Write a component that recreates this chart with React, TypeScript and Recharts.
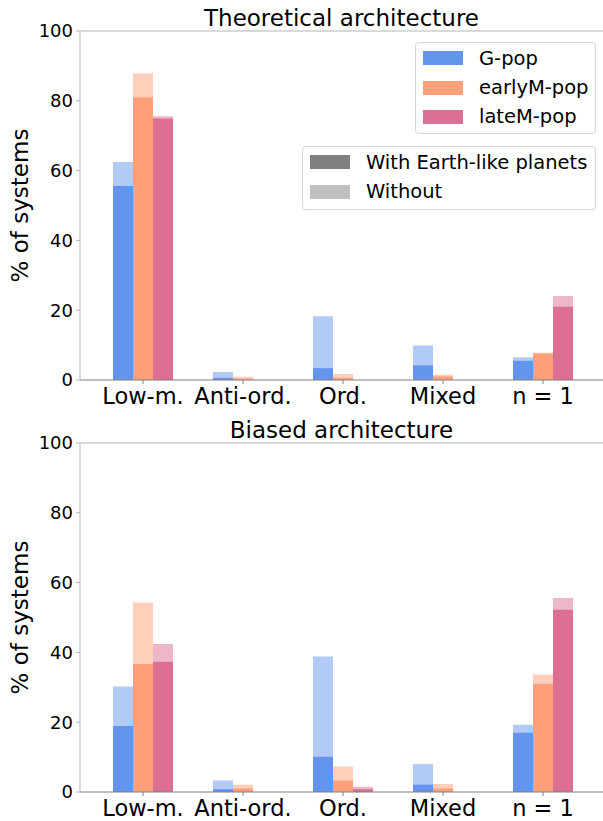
import React from "react";
import {
  BarChart,
  Bar,
  XAxis,
  YAxis,
  ReferenceLine,
} from "recharts";

const categories = ["Low-m.", "Anti-ord.", "Ord.", "Mixed", "n = 1"];

// Theoretical architecture (%)
const theoGWith = [55.6, 0.6, 3.4, 4.2, 5.5];
const theoGWithout = [62.5, 2.3, 18.3, 9.9, 6.5];
const theoEarlyWith = [81.0, 0.4, 0.6, 1.0, 7.6];
const theoEarlyWithout = [87.9, 0.95, 1.7, 1.5, 7.8];
const theoLateWith = [74.9, 0, 0, 0, 21.0];
const theoLateWithout = [75.6, 0, 0, 0, 24.1];

// Biased architecture (%)
const biasGWith = [18.9, 0.8, 10.1, 2.1, 17.0];
const biasGWithout = [30.2, 3.3, 38.8, 8.0, 19.3];
const biasEarlyWith = [36.7, 1.0, 3.3, 1.0, 31.0];
const biasEarlyWithout = [54.3, 2.1, 7.3, 2.3, 33.7];
const biasLateWith = [37.3, 0, 0.8, 0, 52.2];
const biasLateWithout = [42.4, 0, 1.5, 0, 55.6];

const yTicks = [0, 20, 40, 60, 80, 100];

const POPS = [
  { key: "g", name: "G-pop", color: "#6495ed" },
  { key: "early", name: "earlyM-pop", color: "#ffa07a" },
  { key: "late", name: "lateM-pop", color: "#db7093" },
];

const FONT = "'DejaVu Sans', sans-serif";
const LIGHT_SPINE = "#b3b3b3";
const DARK_SPINE = "#7f7f7f";

function buildRows(
  gW: number[], gWo: number[],
  eW: number[], eWo: number[],
  lW: number[], lWo: number[]
) {
  return categories.map((cat, i) => ({
    cat,
    g: gW[i], gWo: gWo[i],
    early: eW[i], earlyWo: eWo[i],
    late: lW[i], lateWo: lWo[i],
  }));
}

const theoData = buildRows(
  theoGWith, theoGWithout, theoEarlyWith, theoEarlyWithout, theoLateWith, theoLateWithout
);
const biasData = buildRows(
  biasGWith, biasGWithout, biasEarlyWith, biasEarlyWithout, biasLateWith, biasLateWithout
);

const YLabel = ({ viewBox }: any) => {
  const cy = viewBox.y + viewBox.height / 2;
  return (
    <text
      x={20}
      y={cy}
      transform={`rotate(-90 20 ${cy})`}
      textAnchor="middle"
      dominantBaseline="central"
      fontSize={23}
      fontFamily={FONT}
      fill="#000"
    >
      % of systems
    </text>
  );
};

function ArchChart({ title, data, height, xHeight }: any) {
  const pad = { left: 13, right: 10 };
  return (
    <div style={{ position: "relative", width: 603, height }}>
      <div
        style={{
          position: "absolute",
          left: 80,
          width: 523,
          top: 6.5,
          textAlign: "center",
          fontSize: 23,
          lineHeight: "23px",
          fontFamily: FONT,
          color: "#000",
          whiteSpace: "nowrap",
        }}
      >
        {title}
      </div>
      <BarChart
        width={603}
        height={height}
        data={data}
        margin={{ top: 31, right: 0, bottom: 2, left: 0 }}
        barGap={0}
        barSize={20}
        style={{ fontFamily: FONT }}
      >
        <XAxis
          xAxisId="light"
          dataKey="cat"
          padding={pad}
          height={xHeight}
          tickSize={4}
          tickMargin={4}
          interval={0}
          axisLine={{ stroke: DARK_SPINE }}
          tickLine={{ stroke: DARK_SPINE }}
          tick={{ fontSize: 22.5, fill: "#000", fontFamily: FONT }}
        />
        <XAxis xAxisId="dark" dataKey="cat" padding={pad} orientation="top" height={0} hide />
        <YAxis
          domain={[0, 100]}
          ticks={yTicks}
          width={80}
          tickSize={4}
          tickMargin={3}
          interval={0}
          axisLine={{ stroke: LIGHT_SPINE }}
          tickLine={{ stroke: LIGHT_SPINE }}
          tick={{ fontSize: 18, fill: "#000", fontFamily: FONT }}
          label={<YLabel />}
        />
        <ReferenceLine xAxisId="light" y={100} stroke={LIGHT_SPINE} strokeWidth={1} />
        {POPS.map((p) => (
          <Bar
            key={p.key + "Wo"}
            xAxisId="light"
            dataKey={p.key + "Wo"}
            fill={p.color}
            fillOpacity={0.5}
            isAnimationActive={false}
          />
        ))}
        {POPS.map((p) => (
          <Bar
            key={p.key}
            xAxisId="dark"
            dataKey={p.key}
            fill={p.color}
            isAnimationActive={false}
          />
        ))}
      </BarChart>
    </div>
  );
}

const legendBox: React.CSSProperties = {
  position: "absolute",
  background: "rgba(255,255,255,0.8)",
  border: "1px solid #d6d6d6",
  borderRadius: 4,
  boxSizing: "border-box",
  paddingTop: 1,
  fontFamily: FONT,
  fontSize: 19.5,
  color: "#000",
};

function LegendRow({ color, label, textLeft }: any) {
  return (
    <div style={{ height: 29.3, display: "flex", alignItems: "center", whiteSpace: "nowrap" }}>
      <div style={{ marginLeft: 7, width: 40, height: 14, background: color }} />
      <div style={{ marginLeft: textLeft }}>{label}</div>
    </div>
  );
}

export default function App() {
  return (
    <div
      style={{
        position: "absolute",
        left: 0,
        top: 0,
        width: 603,
        height: 821,
        overflow: "hidden",
        background: "#fff",
      }}
    >
      <ArchChart title="Theoretical architecture" data={theoData} height={412} xHeight={30} />
      <ArchChart title="Biased architecture" data={biasData} height={409} xHeight={27} />

      <div style={{ ...legendBox, left: 415, top: 41.7, width: 181, height: 92.3 }}>
        {POPS.map((p) => (
          <LegendRow key={p.key} color={p.color} label={p.name} textLeft={16} />
        ))}
      </div>
      <div style={{ ...legendBox, left: 302.3, top: 145.7, width: 293.4, height: 64.6 }}>
        <LegendRow color="#808080" label="With Earth-like planets" textLeft={15.7} />
        <LegendRow color="#bfbfbf" label="Without" textLeft={15.7} />
      </div>
    </div>
  );
}
